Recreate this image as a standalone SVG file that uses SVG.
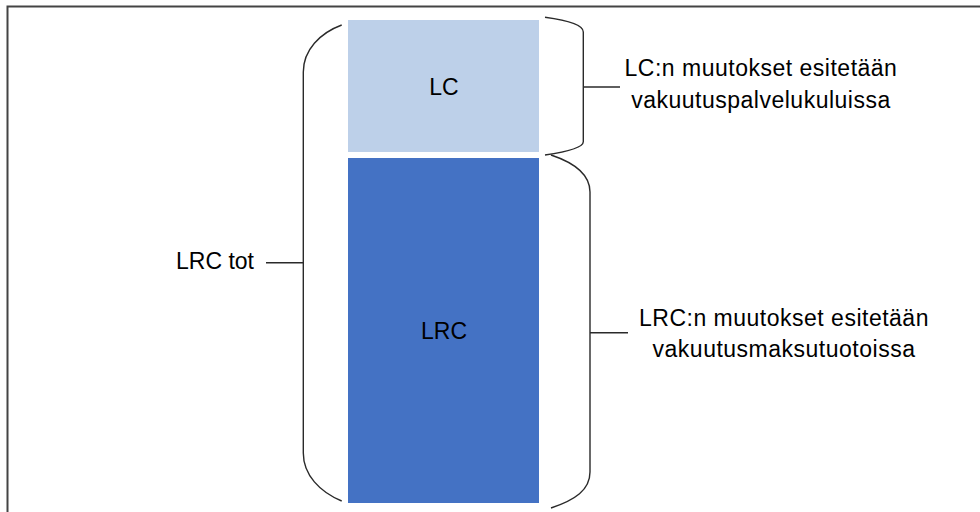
<svg xmlns="http://www.w3.org/2000/svg" width="980" height="512" viewBox="0 0 980 512">
  <style>
    .lbl { font-family: "Liberation Sans", Arial, sans-serif; font-size: 23px; fill: #000; text-anchor: middle; }
    .wide { letter-spacing: 0.5px; }
    .brace { fill: none; stroke: #2a2a2a; stroke-width: 1.4; }
    .frame { fill: none; stroke: #444; stroke-width: 2; }
  </style>
  <rect width="980" height="512" fill="#fff"/>
  <!-- frame -->
  <path class="frame" d="M7.5,512 V6.5 H980"/>

  <g id="lc">
    <rect x="348" y="20" width="191" height="132" fill="#BDD0E9"/>
    <text class="lbl" x="444" y="95">LC</text>
  </g>
  <g id="lrc">
    <rect x="348" y="158" width="191" height="345" fill="#4472C4"/>
    <text class="lbl" x="444" y="339">LRC</text>
  </g>

  <g id="connectors">
    <!-- brace around whole stack -->
    <path class="brace" d="M341.7,25 C320,33 303.3,50 303.3,72 L303.3,453 C303.3,475 320,492 341.7,501"/>
    <path class="brace" d="M266,262.7 H303.3"/>
    <!-- brace around LC -->
    <path class="brace" d="M545,17.3 C565,20 583.3,24 583.3,32 L583.3,141.7 C583.3,148 565,152 545,155"/>
    <path class="brace" d="M583.3,87 H620"/>
    <!-- brace around LRC -->
    <path class="brace" d="M551,155 C575,163 590,175 590,192 L590,472 C590,490 575,500 551,508"/>
    <path class="brace" d="M590,332.7 H628"/>
  </g>

  <g id="label-total">
    <text class="lbl" x="215" y="269">LRC tot</text>
  </g>
  <g id="label-lc">
    <text class="lbl wide" x="761" y="76">LC:n muutokset esitetään</text>
    <text class="lbl wide" x="761" y="108">vakuutuspalvelukuluissa</text>
  </g>
  <g id="label-lrc">
    <text class="lbl wide" x="784" y="326">LRC:n muutokset esitetään</text>
    <text class="lbl wide" x="784" y="357">vakuutusmaksutuotoissa</text>
  </g>
</svg>
